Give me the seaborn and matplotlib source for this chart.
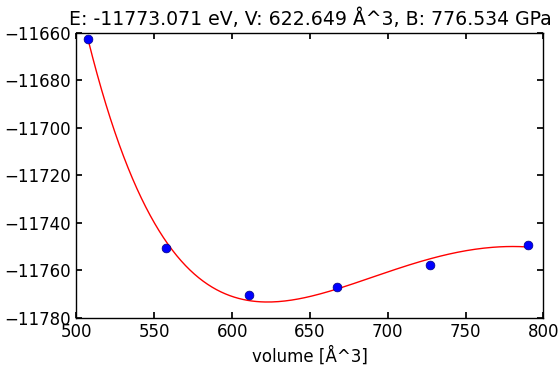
import numpy as np
import pandas as pd
import matplotlib
matplotlib.use("Agg")
import matplotlib.pyplot as plt
import seaborn as sns

# volumes (Å^3) and total energies (eV)
volumes = [507.6, 557.6, 611.1, 667.5, 726.8, 790.2]
energies = [-11662.4, -11750.6, -11770.4, -11767.0, -11757.8, -11749.3]
title = "E: -11773.071 eV, V: 622.649 Å^3, B: 776.534 GPa"

sns.set_theme(style="ticks", rc={
    "xtick.direction": "in", "ytick.direction": "in",
    "xtick.top": True, "ytick.right": True,
    "xtick.major.size": 4, "ytick.major.size": 4,
    "xtick.major.pad": 4, "ytick.major.pad": 4,
    "xtick.color": "black", "ytick.color": "black",
    "text.color": "black", "axes.labelcolor": "black",
    "axes.edgecolor": "black", "axes.linewidth": 1.0,
})
plt.rcParams["font.family"] = ["DejaVu Sans"]

df = pd.DataFrame({"volume": volumes, "energy": energies})

# polynomial fit in V^(-1/3), same idea as ASE's sj equation of state
coef = np.polyfit(df.volume ** (-1 / 3), df.energy, 3)
v_fit = np.linspace(df.volume.min(), df.volume.max(), 200)
fit = pd.DataFrame({"volume": v_fit, "energy": np.polyval(coef, v_fit ** (-1 / 3))})

fig, ax = plt.subplots(figsize=(5.58, 3.65), dpi=100)
sns.lineplot(data=fit, x="volume", y="energy", color="red", lw=1.0, ax=ax)
sns.scatterplot(data=df, x="volume", y="energy", color="blue", s=40,
                edgecolor="navy", linewidth=0.5, zorder=3, ax=ax)

ax.set_xlim(500, 800)
ax.set_ylim(-11780, -11660)
ax.set_xlabel("volume [Å^3]", fontsize=12)
ax.set_ylabel("")
ax.set_title(title, fontsize=13.6)
ax.tick_params(labelsize=12)
fig.subplots_adjust(left=0.137, right=0.974, top=0.910, bottom=0.130)
fig.savefig("out.png", dpi=100)
